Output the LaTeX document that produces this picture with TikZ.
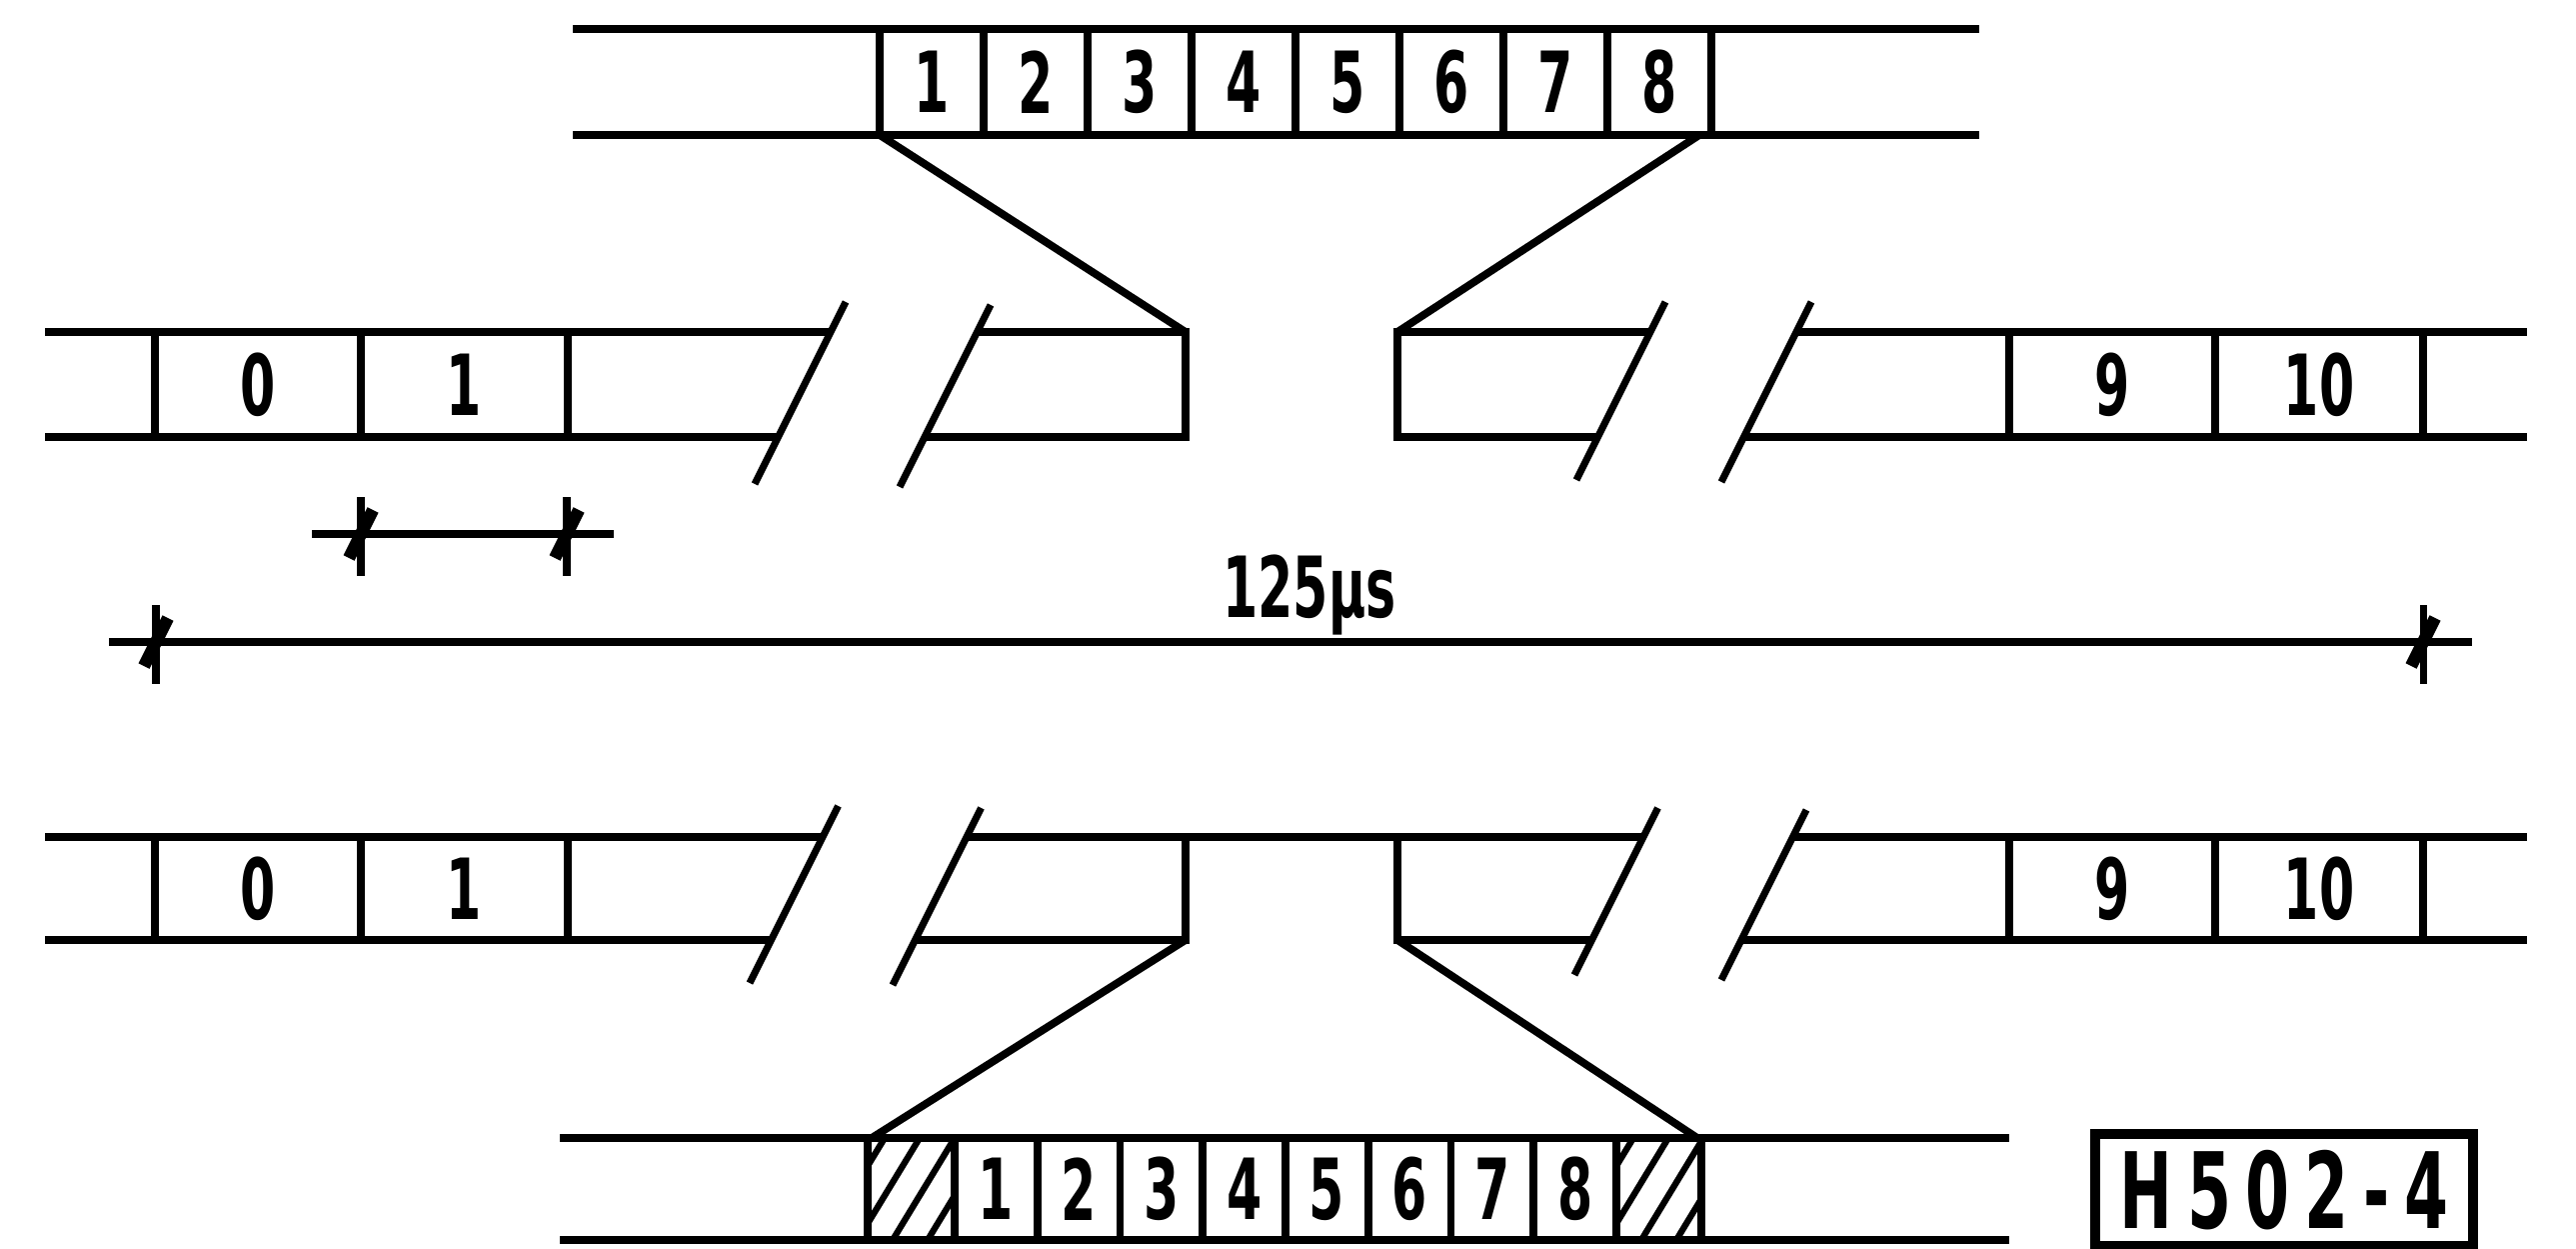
\documentclass[tikz,border=0pt]{standalone}
\usepackage{fontspec}
\usetikzlibrary{calc}
\newfontfamily\dinf[FakeStretch=0.6]{DejaVu Sans}
\begin{document}
\begin{tikzpicture}[x=0.1mm,y=-0.1mm,
  ln/.style={line width=2.2pt},
  slashln/.style={line width=2pt},
  hatch/.style={line width=1.8pt},
  cell/.style={draw, line width=2.2pt, inner sep=0pt, outer sep=0pt,
    font=\dinf\bfseries\fontsize{24}{24}\selectfont},
  tickmark/.pic={\draw[line width=2pt] (0,-37) -- (0,42);
                 \draw[line width=3.5pt] (-12,24) -- (12,-24);}
]
\useasboundingbox (0,0) rectangle (2577,1249);

% ---------- top strip ----------
\draw[ln] (573,29) -- (1980,29) (573,135) -- (1980,135);
\foreach \i [evaluate=\i as \xc using {880+104*(\i-0.5)}] in {1,...,8}
  \node[cell, minimum width=10.4mm, minimum height=10.6mm] (t\i) at (\xc,82) {\i};

% ---------- upper middle strip ----------
\coordinate (ul) at (1186,332);
\coordinate (ur) at (1398,332);
\draw[ln] (45,332) -- (831,332) (45,437) -- (778.5,437);
\draw[ln] (977.5,332) -- (ul) -- (1186,437) -- (925,437);
\draw[ln] (1651,332) -- (ur) -- (1398,437) -- (1598.5,437);
\draw[ln] (1797,332) -- (2528,332) (1744.5,437) -- (2528,437);
\node[cell, minimum width=20.6mm, minimum height=10.5mm] (a0) at (258,384.5) {0};
\node[cell, minimum width=20.7mm, minimum height=10.5mm] (a1) at (464.5,384.5) {1};
\node[cell, minimum width=20.6mm, minimum height=10.5mm] (a9) at (2113,384.5) {9};
\node[cell, minimum width=20.8mm, minimum height=10.5mm] (a10) at (2320,384.5) {10};
\draw[slashln] (755,484) -- (846,302);
\draw[slashln] (900,487) -- (991,305);
\draw[slashln] (1577,480) -- (1666,302);
\draw[slashln] (1722,482) -- (1812,302);
\draw[ln] (t1.south west) -- (ul);
\draw[ln] ($(t8.south east)+(-12,0)$) -- (ur);

% ---------- time scale ----------
\coordinate (s1) at (312,534);  \coordinate (s2) at (614,534);
\coordinate (L1) at (109,642);  \coordinate (L2) at (2473,642);
\draw[ln] (s1) -- (s2);
\draw[ln] (L1) -- (L2);
\pic at (361,534) {tickmark};
\pic at (567,534) {tickmark};
\pic at (156,642) {tickmark};
\pic at (2424,642) {tickmark};
\node[anchor=base, inner sep=0pt, font=\dinf\bfseries\fontsize{24}{24}\selectfont]
  (tlabel) at (1310,617) {125µs};

% ---------- lower middle strip ----------
\coordinate (ll) at (1186,940);
\coordinate (lr) at (1398,940);
\draw[ln] (45,837) -- (823,837) (45,940) -- (771.5,940);
\draw[ln] (967,837) -- (1644,837);
\draw[ln] (915.5,940) -- (ll) -- (1186,837);
\draw[ln] (1592.5,940) -- (lr) -- (1398,837);
\draw[ln] (1793.5,837) -- (2528,837) (1742,940) -- (2528,940);
\node[cell, minimum width=20.6mm, minimum height=10.3mm] (b0) at (258,888.5) {0};
\node[cell, minimum width=20.7mm, minimum height=10.3mm] (b1) at (464.5,888.5) {1};
\node[cell, minimum width=20.6mm, minimum height=10.3mm] (b9) at (2113,888.5) {9};
\node[cell, minimum width=20.8mm, minimum height=10.3mm] (b10) at (2320,888.5) {10};
\draw[slashln] (750,983) -- (838.5,806);
\draw[slashln] (893,985) -- (981.5,808);
\draw[slashln] (1575,975) -- (1658.5,808);
\draw[slashln] (1722,980) -- (1807,810);

% ---------- bottom strip ----------
\draw[ln] (560,1138) -- (2010,1138) (560,1240) -- (2010,1240);
\node[cell, minimum width=8.7mm, minimum height=10.2mm] (hL) at (911.5,1189) {};
\node[cell, minimum width=8.5mm, minimum height=10.2mm] (hR) at (1659.5,1189) {};
\foreach \i [evaluate=\i as \xc using {955+82.75*(\i-0.5)}] in {1,...,8}
  \node[cell, minimum width=8.275mm, minimum height=10.2mm] (c\i) at (\xc,1189) {\i};
\foreach \h in {hL,hR}{
  \begin{scope}
    \clip (\h.south west) rectangle (\h.north east);
    \foreach \s in {-45,-10,25,60}
      \draw[hatch] ($(\h.south west)+(\s,0)$) -- ++(62,-102);
  \end{scope}
}
\draw[ln] (ll) -- ($(hL.north west)+(4,0)$);
\draw[ln] (lr) -- ($(hR.north east)+(-4,0)$);

% ---------- figure label ----------
\node[draw, line width=3pt, inner sep=0pt, minimum width=37.8mm, minimum height=11.2mm,
  font=\dinf\bfseries\fontsize{30}{30}\selectfont\addfontfeature{LetterSpace=14}]
  (fig) at (2285,1190) {H502-4};
\end{tikzpicture}
\end{document}
